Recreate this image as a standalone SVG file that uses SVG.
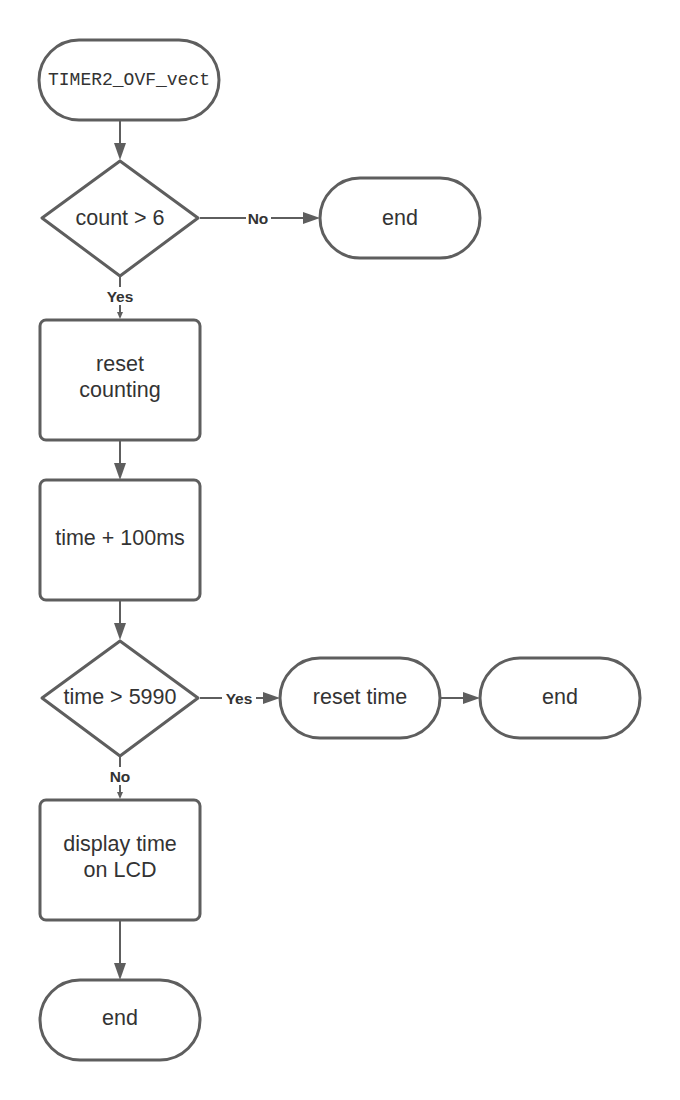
<svg xmlns="http://www.w3.org/2000/svg" width="680" height="1100" viewBox="0 0 680 1100">
<style>
.shape{fill:#ffffff;stroke:#5e5e5e;stroke-width:3;stroke-linejoin:round}
.t{font-family:"Liberation Sans",Arial,sans-serif;font-size:21.5px;fill:#333333;text-anchor:middle;dominant-baseline:central}
.mono{font-family:"Liberation Mono","DejaVu Sans Mono",monospace;font-size:18px;fill:#333333;text-anchor:middle;dominant-baseline:central}
.lbl{font-family:"Liberation Sans",Arial,sans-serif;font-size:15.5px;font-weight:bold;fill:#333333;text-anchor:middle;dominant-baseline:central}
.lblbg{fill:#ffffff;stroke:none}
.conn{fill:none;stroke:#5e5e5e;stroke-width:2}
.ah{fill:#5e5e5e;stroke:none}
</style>
<rect width="680" height="1100" fill="#ffffff"/>
<g id="connectors">
  <line class="conn" x1="120" y1="120" x2="120" y2="145"/>
  <polygon class="ah" points="114,143 126,143 120,160"/>
  <line class="conn" x1="200" y1="218" x2="305" y2="218"/>
  <polygon class="ah" points="303,212 303,224 320,218"/>
  <rect class="lblbg" x="246" y="209" width="25" height="18"/>
  <text class="lbl" x="258" y="218">No</text>
  <line class="conn" x1="120" y1="276" x2="120" y2="314"/>
  <polygon class="ah" points="117,312 123,312 120,319"/>
  <rect class="lblbg" x="102" y="287" width="36" height="18"/>
  <text class="lbl" x="120" y="296">Yes</text>
  <line class="conn" x1="120" y1="440" x2="120" y2="465"/>
  <polygon class="ah" points="114,463 126,463 120,480"/>
  <line class="conn" x1="120" y1="600" x2="120" y2="625"/>
  <polygon class="ah" points="114,623 126,623 120,640"/>
  <line class="conn" x1="200" y1="698" x2="265" y2="698"/>
  <polygon class="ah" points="263,692 263,704 280,698"/>
  <rect class="lblbg" x="222" y="689" width="34" height="18"/>
  <text class="lbl" x="239" y="698">Yes</text>
  <line class="conn" x1="440" y1="698" x2="465" y2="698"/>
  <polygon class="ah" points="463,692 463,704 480,698"/>
  <line class="conn" x1="120" y1="756" x2="120" y2="794"/>
  <polygon class="ah" points="117,792 123,792 120,799"/>
  <rect class="lblbg" x="106" y="767" width="28" height="18"/>
  <text class="lbl" x="120" y="776">No</text>
  <line class="conn" x1="120" y1="920" x2="120" y2="965"/>
  <polygon class="ah" points="114,963 126,963 120,980"/>
</g>
<g id="start">
  <rect class="shape" x="39" y="40" width="180" height="80" rx="40" ry="40"/>
  <text class="mono" x="129" y="80">TIMER2_OVF_vect</text>
</g>
<g id="dec1">
  <path class="shape" d="M120,161 L198,218 L120,276 L42,218 Z"/>
  <text class="t" x="120" y="218">count &gt; 6</text>
</g>
<g id="end1">
  <rect class="shape" x="320" y="178" width="160" height="80" rx="40" ry="40"/>
  <text class="t" x="400" y="218">end</text>
</g>
<g id="reset_counting">
  <rect class="shape" x="40" y="320" width="160" height="120" rx="6" ry="6"/>
  <text class="t" x="120" y="364">reset</text>
  <text class="t" x="120" y="390">counting</text>
</g>
<g id="time_add">
  <rect class="shape" x="40" y="480" width="160" height="120" rx="6" ry="6"/>
  <text class="t" x="120" y="538">time + 100ms</text>
</g>
<g id="dec2">
  <path class="shape" d="M120,641 L198,698 L120,756 L42,698 Z"/>
  <text class="t" x="120" y="697">time &gt; 5990</text>
</g>
<g id="reset_time">
  <rect class="shape" x="280" y="658" width="160" height="80" rx="40" ry="40"/>
  <text class="t" x="360" y="697">reset time</text>
</g>
<g id="end2">
  <rect class="shape" x="480" y="658" width="160" height="80" rx="40" ry="40"/>
  <text class="t" x="560" y="697">end</text>
</g>
<g id="display">
  <rect class="shape" x="40" y="800" width="160" height="120" rx="6" ry="6"/>
  <text class="t" x="120" y="844">display time</text>
  <text class="t" x="120" y="870">on LCD</text>
</g>
<g id="end3">
  <rect class="shape" x="40" y="980" width="160" height="80" rx="40" ry="40"/>
  <text class="t" x="120" y="1018">end</text>
</g>
</svg>
